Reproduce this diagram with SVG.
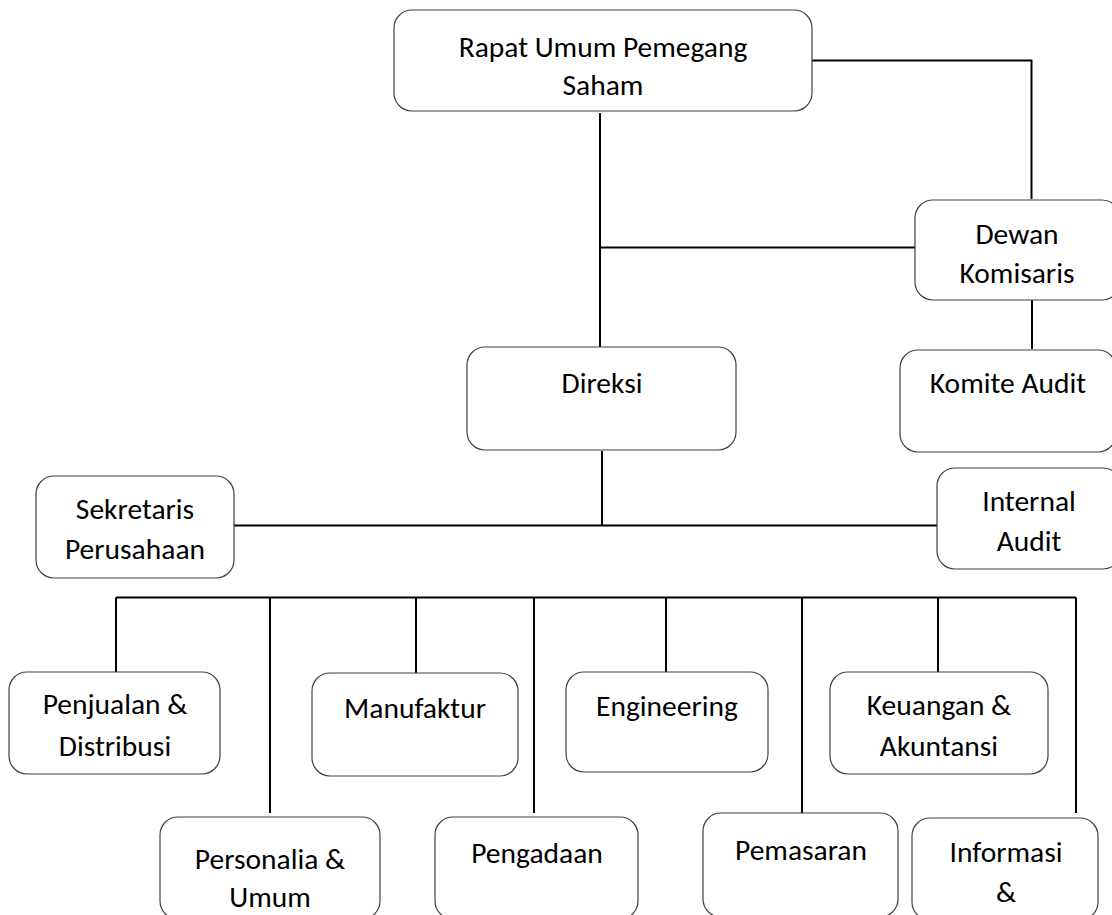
<svg xmlns="http://www.w3.org/2000/svg" width="1112" height="915" viewBox="0 0 1112 915">
<style>
.box{fill:#fff;stroke:#404040;stroke-width:1.2}
.c{fill:none;stroke:#000;stroke-width:2}
text{font-family:Carlito,Lato,"Open Sans",sans-serif;font-size:29.5px;fill:#000;text-anchor:middle}
</style>
<rect width="1112" height="915" fill="#fff"/>
<g id="connectors">
<polyline class="c" points="812,60.5 1031.5,60.5 1031.5,199"/>
<line class="c" x1="600" y1="113" x2="600" y2="347"/>
<line class="c" x1="600" y1="247.5" x2="915" y2="247.5"/>
<line class="c" x1="1032" y1="300" x2="1032" y2="349"/>
<line class="c" x1="602" y1="451" x2="602" y2="525.5"/>
<line class="c" x1="234" y1="525.5" x2="938" y2="525.5"/>
<line class="c" x1="116" y1="597.5" x2="1076" y2="597.5"/>
<line class="c" x1="116" y1="597.5" x2="116" y2="672"/>
<line class="c" x1="270" y1="597.5" x2="270" y2="813"/>
<line class="c" x1="416" y1="597.5" x2="416" y2="673"/>
<line class="c" x1="534" y1="597.5" x2="534" y2="813"/>
<line class="c" x1="666" y1="597.5" x2="666" y2="672"/>
<line class="c" x1="802" y1="597.5" x2="802" y2="813"/>
<line class="c" x1="938" y1="597.5" x2="938" y2="672"/>
<line class="c" x1="1076" y1="597.5" x2="1076" y2="813"/>
</g>
<g id="rups"><rect class="box" x="394" y="10" width="418" height="101" rx="18"/><text x="603" y="57">Rapat Umum Pemegang</text><text x="603" y="95">Saham</text></g>
<g id="dewan"><rect class="box" x="915" y="200" width="205" height="100" rx="18"/><text x="1017" y="244">Dewan</text><text x="1017" y="283">Komisaris</text></g>
<g id="komite"><rect class="box" x="900" y="350" width="216" height="102" rx="18"/><text x="1008" y="393">Komite Audit</text></g>
<g id="direksi"><rect class="box" x="467" y="347" width="269" height="103" rx="18"/><text x="602" y="393">Direksi</text></g>
<g id="sekretaris"><rect class="box" x="36" y="476" width="198" height="102" rx="18"/><text x="135" y="519">Sekretaris</text><text x="135" y="559">Perusahaan</text></g>
<g id="internal"><rect class="box" x="937" y="468" width="184" height="101" rx="18"/><text x="1029" y="511">Internal</text><text x="1029" y="551">Audit</text></g>
<g id="penjualan"><rect class="box" x="9" y="672" width="211" height="102" rx="18"/><text x="115" y="714">Penjualan &amp;</text><text x="115" y="756">Distribusi</text></g>
<g id="manufaktur"><rect class="box" x="312" y="673" width="206" height="103" rx="18"/><text x="415" y="718">Manufaktur</text></g>
<g id="engineering"><rect class="box" x="566" y="672" width="202" height="100" rx="18"/><text x="667" y="716">Engineering</text></g>
<g id="keuangan"><rect class="box" x="830" y="672" width="218" height="102" rx="18"/><text x="939" y="715">Keuangan &amp;</text><text x="939" y="756">Akuntansi</text></g>
<g id="personalia"><rect class="box" x="160" y="817" width="220" height="102" rx="18"/><text x="270" y="869">Personalia &amp;</text><text x="270" y="907">Umum</text></g>
<g id="pengadaan"><rect class="box" x="435" y="817" width="203" height="102" rx="18"/><text x="537" y="863">Pengadaan</text></g>
<g id="pemasaran"><rect class="box" x="703" y="813" width="195" height="104" rx="18"/><text x="801" y="860">Pemasaran</text></g>
<g id="informasi"><rect class="box" x="912" y="818" width="186" height="102" rx="18"/><text x="1006" y="862">Informasi</text><text x="1006" y="902">&amp;</text></g>
</svg>
